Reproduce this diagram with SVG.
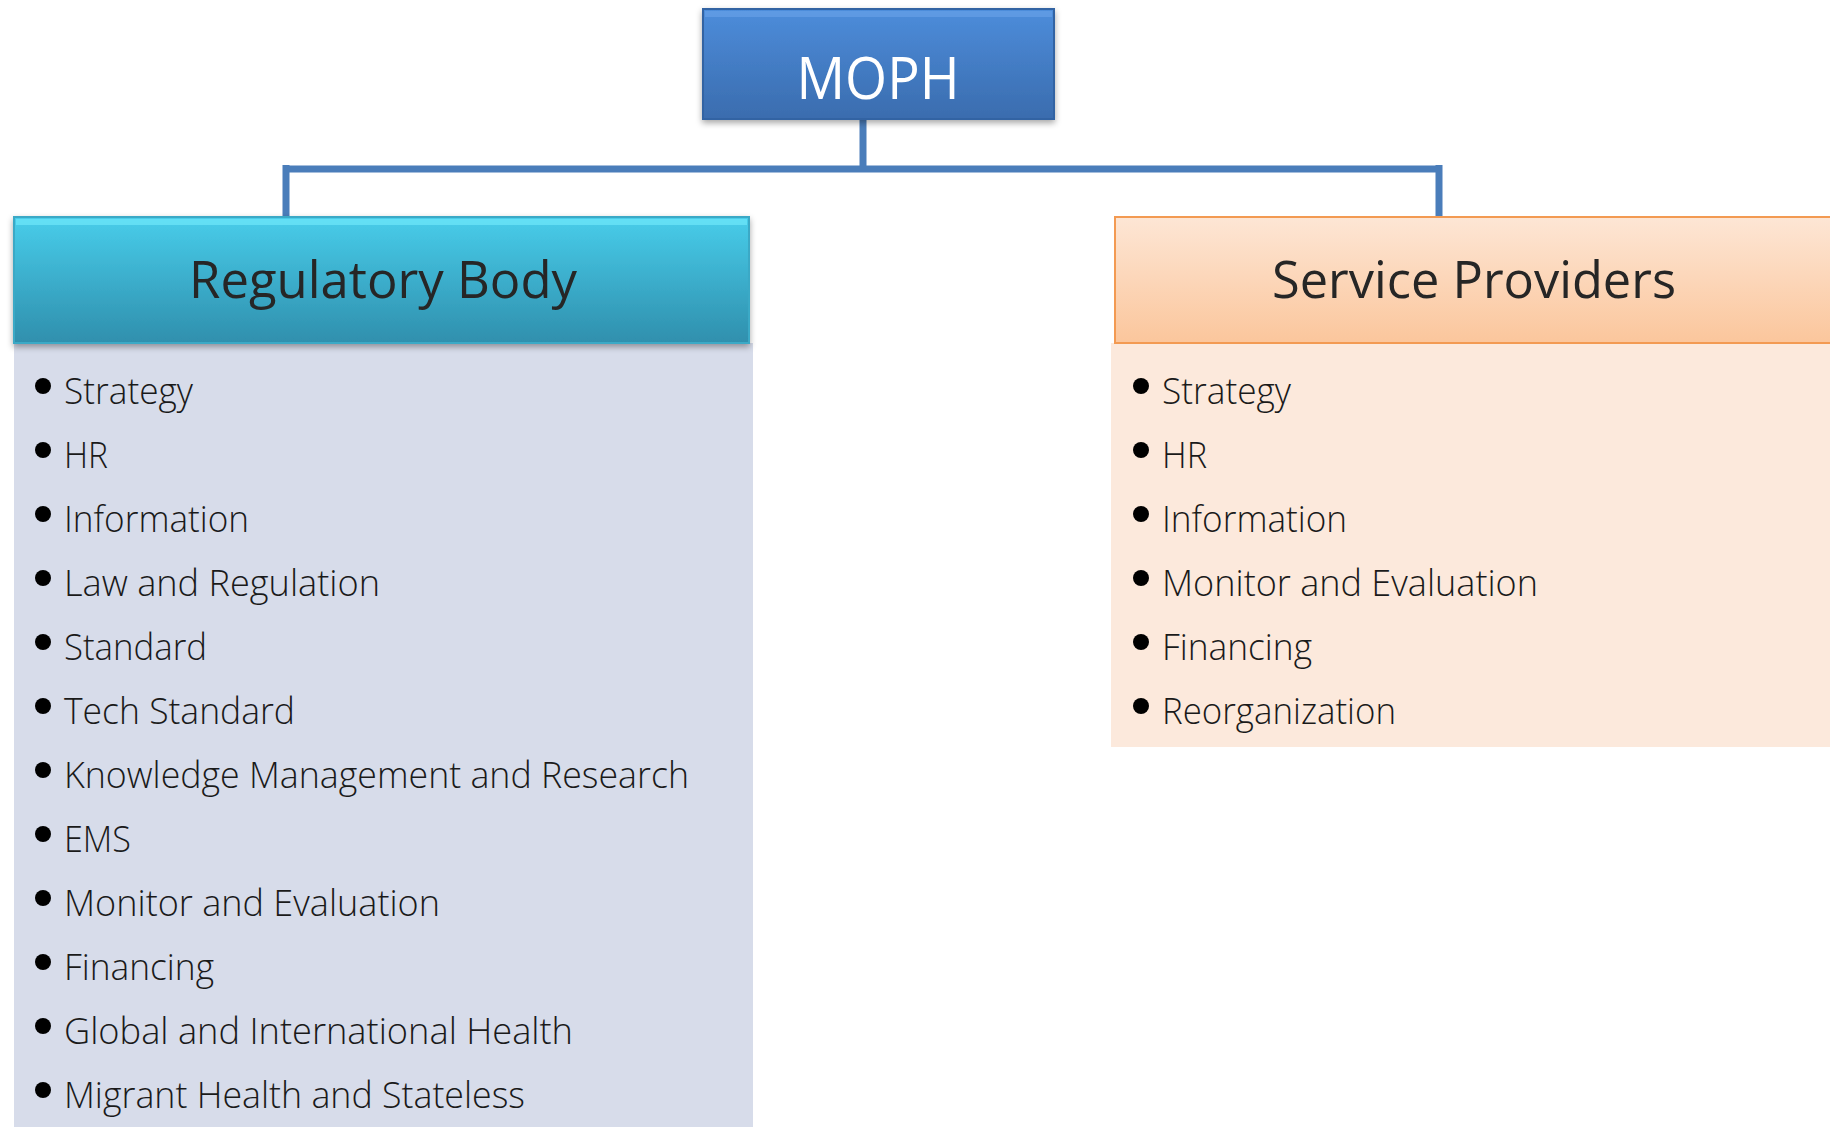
<svg xmlns="http://www.w3.org/2000/svg" width="1830" height="1127" viewBox="0 0 1830 1127">
<defs>
<linearGradient id="gBlue" x1="0" y1="0" x2="0" y2="1">
<stop offset="0" stop-color="#4d8ddb"/>
<stop offset="1" stop-color="#3a6cae"/>
</linearGradient>
<linearGradient id="gCyan" x1="0" y1="0" x2="0" y2="1">
<stop offset="0" stop-color="#48cdea"/>
<stop offset="1" stop-color="#2f8fad"/>
</linearGradient>
<linearGradient id="gPeach" x1="0" y1="0" x2="0" y2="1">
<stop offset="0" stop-color="#fde6d5"/>
<stop offset="1" stop-color="#fbc69c"/>
</linearGradient>
<filter id="sh" x="-5%" y="-5%" width="110%" height="120%">
<feDropShadow dx="0" dy="3" stdDeviation="3" flood-color="#000" flood-opacity="0.35"/>
</filter>
<style>
.item{font-family:"Open Sans","Noto Sans","Liberation Sans",sans-serif;font-size:36px;fill:#1a1a1a;font-weight:300}
.head{font-family:"Open Sans","Noto Sans","Liberation Sans",sans-serif;font-size:52px;fill:#262626;text-anchor:middle}
.bul{fill:#000}
.conn{stroke:#4a7dba;stroke-width:7;fill:none}
</style>
</defs>
<rect width="1830" height="1127" fill="#ffffff"/>

<g id="connectors">
<path class="conn" d="M863 119 V169 M286 169 H1439 M286 165 V217 M1439 165 V217"/>
</g>

<g id="moph">
<rect x="703" y="9" width="351" height="110" fill="url(#gBlue)" stroke="#3364a3" stroke-width="2" filter="url(#sh)"/>
<rect x="705" y="11" width="347" height="6" fill="#6aa4ea" opacity="0.6"/>
<text x="878" y="99" font-family="'Open Sans','Noto Sans','Liberation Sans',sans-serif" font-size="58" fill="#ffffff" text-anchor="middle" textLength="163" lengthAdjust="spacingAndGlyphs">MOPH</text>
</g>

<g id="regulatory">
<rect x="14" y="343" width="739" height="784" fill="#d7dcea"/>
<rect x="14" y="217" width="735" height="126" fill="url(#gCyan)" stroke="#3aa9c6" stroke-width="2" filter="url(#sh)"/>
<rect x="16" y="219" width="731" height="6" fill="#6ae3f7" opacity="0.8"/>
<text class="head" x="383" y="298" textLength="388" lengthAdjust="spacingAndGlyphs">Regulatory Body</text>
<g class="bul">
<circle cx="43" cy="386" r="8"/><circle cx="43" cy="450" r="8"/><circle cx="43" cy="514" r="8"/><circle cx="43" cy="578" r="8"/>
<circle cx="43" cy="642" r="8"/><circle cx="43" cy="706" r="8"/><circle cx="43" cy="770" r="8"/><circle cx="43" cy="834" r="8"/>
<circle cx="43" cy="898" r="8"/><circle cx="43" cy="962" r="8"/><circle cx="43" cy="1026" r="8"/><circle cx="43" cy="1090" r="8"/>
</g>
<text class="item" x="64" y="404" textLength="129" lengthAdjust="spacingAndGlyphs">Strategy</text>
<text class="item" x="64" y="468" textLength="44" lengthAdjust="spacingAndGlyphs">HR</text>
<text class="item" x="64" y="532" textLength="185" lengthAdjust="spacingAndGlyphs">Information</text>
<text class="item" x="64" y="596" textLength="316" lengthAdjust="spacingAndGlyphs">Law and Regulation</text>
<text class="item" x="64" y="660" textLength="143" lengthAdjust="spacingAndGlyphs">Standard</text>
<text class="item" x="64" y="724" textLength="231" lengthAdjust="spacingAndGlyphs">Tech Standard</text>
<text class="item" x="64" y="788" textLength="625" lengthAdjust="spacingAndGlyphs">Knowledge Management and Research</text>
<text class="item" x="64" y="852" textLength="67" lengthAdjust="spacingAndGlyphs">EMS</text>
<text class="item" x="64" y="916" textLength="376" lengthAdjust="spacingAndGlyphs">Monitor and Evaluation</text>
<text class="item" x="64" y="980" textLength="150" lengthAdjust="spacingAndGlyphs">Financing</text>
<text class="item" x="64" y="1044" textLength="509" lengthAdjust="spacingAndGlyphs">Global and International Health</text>
<text class="item" x="64" y="1108" textLength="461" lengthAdjust="spacingAndGlyphs">Migrant Health and Stateless</text>
</g>

<g id="service">
<rect x="1111" y="343" width="719" height="404" fill="#fce9dc"/>
<rect x="1115" y="217" width="720" height="126" fill="url(#gPeach)" stroke="#f39a52" stroke-width="2"/>
<text class="head" x="1474" y="298" textLength="404" lengthAdjust="spacingAndGlyphs">Service Providers</text>
<g class="bul">
<circle cx="1141" cy="386" r="8"/><circle cx="1141" cy="450" r="8"/><circle cx="1141" cy="514" r="8"/>
<circle cx="1141" cy="578" r="8"/><circle cx="1141" cy="642" r="8"/><circle cx="1141" cy="706" r="8"/>
</g>
<text class="item" x="1162" y="404" textLength="129" lengthAdjust="spacingAndGlyphs">Strategy</text>
<text class="item" x="1162" y="468" textLength="45" lengthAdjust="spacingAndGlyphs">HR</text>
<text class="item" x="1162" y="532" textLength="185" lengthAdjust="spacingAndGlyphs">Information</text>
<text class="item" x="1162" y="596" textLength="376" lengthAdjust="spacingAndGlyphs">Monitor and Evaluation</text>
<text class="item" x="1162" y="660" textLength="150" lengthAdjust="spacingAndGlyphs">Financing</text>
<text class="item" x="1162" y="724" textLength="234" lengthAdjust="spacingAndGlyphs">Reorganization</text>
</g>
</svg>
